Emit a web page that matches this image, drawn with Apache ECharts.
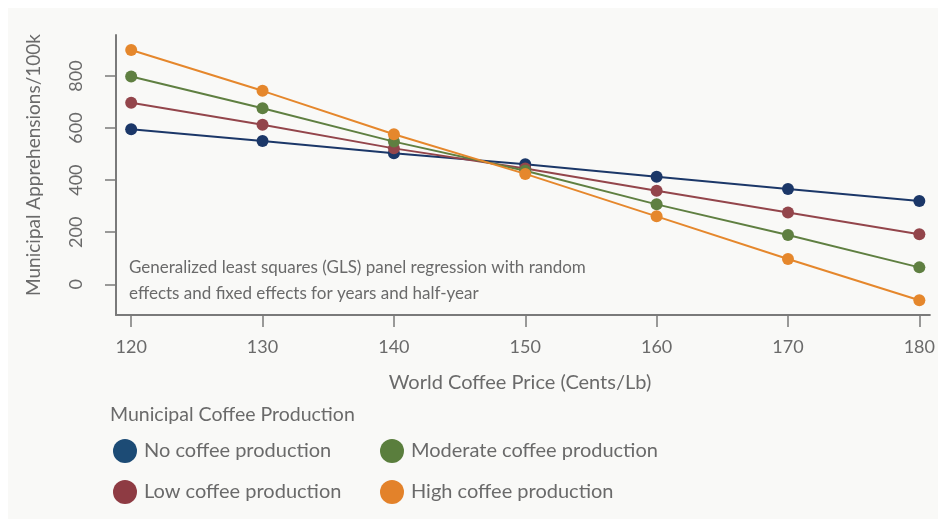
<!DOCTYPE html>
<html>
<head>
<meta charset="utf-8">
<script src="https://cdn.jsdelivr.net/npm/echarts@6/dist/echarts.min.js"></script>
<style>
  html, body { margin: 0; padding: 0; background: #ffffff; }
  #panel { position: absolute; left: 8px; top: 8px; width: 930px; height: 511px; background: #f9f9f7; }
  #chart { position: absolute; left: 0; top: 0; width: 938px; height: 519px; }
</style>
</head>
<body>
<div id="panel"></div>
<div id="chart"></div>
<script>
// World coffee price (cents per lb) at which predictions are evaluated
const prices = [120, 130, 140, 150, 160, 170, 180];

// Predicted municipal apprehensions per 100k, by coffee production level
const noProduction       = [595, 550, 503, 461, 413, 366, 320];
const lowProduction      = [697, 613, 522, 445, 359, 276, 192];
const moderateProduction = [798, 676, 548, 436, 307, 189, 65];
const highProduction     = [900, 743, 576, 424, 261, 97, -61];

const yTicks = [0, 200, 400, 600, 800];
const xTicks = [120, 130, 140, 150, 160, 170, 180];

const seriesNames = ['No coffee production', 'Low coffee production',
                     'Moderate coffee production', 'High coffee production'];

const FONT = 'Lato, "Open Sans", sans-serif';
const TEXT = '#6a6a6a';
const AXIS = '#7a7a7a';

const lineColors   = ['#1b3768', '#93454b', '#5f7f41', '#e5872c'];
const legendColors = ['#1c4b75', '#8e3b43', '#5a7e3d', '#e3822a'];

const values = [noProduction, lowProduction, moderateProduction, highProduction];

const chart = echarts.init(document.getElementById('chart'), null, { renderer: 'canvas' });

const series = values.map((vals, i) => ({
  name: seriesNames[i],
  type: 'line',
  data: prices.map((p, j) => [p, vals[j]]),
  symbol: 'circle',
  symbolSize: 12,
  lineStyle: { width: 2, color: lineColors[i] },
  itemStyle: { color: lineColors[i] },
  z: 2 + i,
  animation: false
}));

const legendItem = (i) => ({ name: seriesNames[i], itemStyle: { color: legendColors[i] } });

const legendBase = {
  orient: 'vertical', top: 434,
  itemWidth: 24, itemHeight: 24, itemGap: 17, icon: 'circle',
  textStyle: { color: TEXT, fontFamily: FONT, fontSize: 20, padding: [0, 0, 0, 2] },
  selectedMode: false
};

chart.setOption({
  backgroundColor: 'transparent',
  animation: false,
  grid: { left: 116, right: 2, top: 35, bottom: 204, containLabel: false },
  xAxis: {
    type: 'value',
    min: 118.845,
    max: 180.8,
    axisLine: { show: true, onZero: false, lineStyle: { color: AXIS, width: 2 } },
    axisTick: { show: true, length: 12, customValues: xTicks, lineStyle: { color: AXIS, width: 1.5 } },
    axisLabel: { customValues: xTicks, color: TEXT, fontFamily: FONT, fontSize: 18, margin: 23 },
    splitLine: { show: false }
  },
  yAxis: {
    type: 'value',
    min: -117.9,
    max: 957.4,
    axisLine: { show: true, onZero: false, lineStyle: { color: AXIS, width: 2 } },
    axisTick: { show: true, length: 11, customValues: yTicks, lineStyle: { color: AXIS, width: 1.5 } },
    axisLabel: { customValues: yTicks, rotate: 90, color: TEXT, fontFamily: FONT, fontSize: 18, margin: 31 },
    splitLine: { show: false }
  },
  legend: [
    Object.assign({}, legendBase, { left: 108, data: [legendItem(0), legendItem(1)] }),
    Object.assign({}, legendBase, { left: 375, data: [legendItem(2), legendItem(3)] })
  ],
  graphic: [
    {
      type: 'text', x: 34, y: 165, rotation: Math.PI / 2,
      style: { text: 'Municipal Apprehensions/100k', fill: TEXT, font: '19px ' + FONT, align: 'center', verticalAlign: 'middle' }
    },
    {
      type: 'text', x: 520, y: 383,
      style: { text: 'World Coffee Price (Cents/Lb)', fill: TEXT, font: '20px ' + FONT, align: 'center', verticalAlign: 'middle' }
    },
    {
      type: 'text', x: 110, y: 415,
      style: { text: 'Municipal Coffee Production', fill: TEXT, font: '19.5px ' + FONT, align: 'left', verticalAlign: 'middle' }
    },
    {
      type: 'text', x: 129, y: 268,
      style: { text: 'Generalized least squares (GLS) panel regression with random', fill: TEXT, font: '17px ' + FONT, align: 'left', verticalAlign: 'middle' }
    },
    {
      type: 'text', x: 129, y: 294,
      style: { text: 'effects and fixed effects for years and half-year', fill: TEXT, font: '17px ' + FONT, align: 'left', verticalAlign: 'middle' }
    }
  ],
  series: series
});
</script>
</body>
</html>
